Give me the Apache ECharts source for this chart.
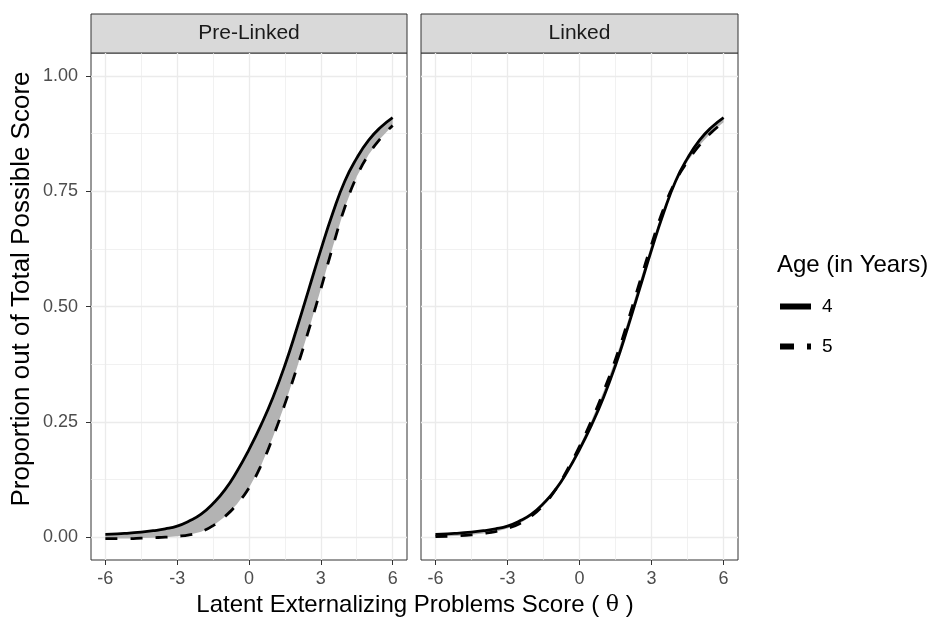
<!DOCTYPE html>
<html>
<head>
<meta charset="utf-8">
<script src="https://cdn.jsdelivr.net/npm/echarts@6/dist/echarts.min.js"></script>
<style>
  html, body { margin: 0; padding: 0; background: #fff; }
  #chart { width: 930px; height: 622px; }
</style>
</head>
<body>
<div id="chart"></div>
<script>
// Test characteristic curves by age, before and after linking (two facets).
const theta = [-6, -5.5, -5, -4.5, -4, -3.5, -3, -2.5, -2, -1.5, -1, -0.5, 0,
  0.5, 1, 1.5, 2, 2.5, 3, 3.5, 4, 4.5, 5, 5.5, 6];

// Pre-Linked panel
const preAge4 = [0.006, 0.007, 0.009, 0.011, 0.014, 0.018, 0.024, 0.035, 0.05, 0.073, 0.103, 0.143, 0.19,
  0.243, 0.303, 0.373, 0.453, 0.538, 0.623, 0.703, 0.772, 0.822, 0.861, 0.889, 0.91];
const preAge5 = [-0.003, -0.003, -0.003, -0.002, -0.001, 0.0, 0.002, 0.005, 0.012, 0.025, 0.045, 0.072, 0.107,
  0.155, 0.217, 0.289, 0.367, 0.45, 0.538, 0.63, 0.715, 0.782, 0.83, 0.865, 0.893];

// Linked panel
const linkedAge4 = [0.006, 0.007, 0.009, 0.011, 0.014, 0.018, 0.024, 0.035, 0.05, 0.073, 0.103, 0.143, 0.19,
  0.243, 0.303, 0.373, 0.453, 0.538, 0.623, 0.703, 0.772, 0.822, 0.861, 0.889, 0.91];
const linkedAge5 = [0.001, 0.002, 0.003, 0.005, 0.008, 0.012, 0.019, 0.029, 0.046, 0.07, 0.103, 0.147, 0.197,
  0.253, 0.316, 0.386, 0.466, 0.552, 0.635, 0.712, 0.772, 0.815, 0.85, 0.878, 0.9];

const panels = ["Pre-Linked", "Linked"];
const ageNames = ["4", "5"];
const xTicks = [-6, -3, 0, 3, 6];
const xMinor = [-4.5, -1.5, 1.5, 4.5];
const yTicks = [0, 0.25, 0.5, 0.75, 1];
const yMinor = [0.125, 0.375, 0.625, 0.875];

const FONT = "'Liberation Sans', Arial, sans-serif";
const X_RANGE = [-6.6, 6.6];
const Y_RANGE = [-0.0495, 1.05];
const panelBox = [{ left: 91, width: 316 }, { left: 421, width: 317 }];
const TOP = 53, BOTTOM = 62;

const chart = echarts.init(document.getElementById("chart"));

const grids = panelBox.map((p) => ({
  left: p.left, width: p.width, top: TOP, bottom: BOTTOM,
  show: true, borderColor: "#333", borderWidth: 1, backgroundColor: "#fff",
}));

// each panel gets a major axis (ticks, labels, thick grid) and a minor one (thin grid only)
const xAxes = [], yAxes = [];
panelBox.forEach((p, gi) => {
  xAxes.push({
    type: "value", gridIndex: gi, min: X_RANGE[0], max: X_RANGE[1], position: "bottom",
    axisLine: { show: false, onZero: false },
    axisTick: { show: true, length: 5, customValues: xTicks, lineStyle: { color: "#333", width: 1 } },
    axisLabel: { customValues: xTicks, color: "#4d4d4d", fontSize: 18, fontFamily: FONT, margin: 10 },
    splitLine: { show: true, lineStyle: { color: "#ebebeb", width: 1.3 } },
  });
  xAxes.push({
    type: "value", gridIndex: gi, min: X_RANGE[0], max: X_RANGE[1],
    axisLine: { show: false, onZero: false }, axisLabel: { show: false },
    axisTick: { show: false, customValues: xMinor },
    splitLine: { show: true, lineStyle: { color: "#ebebeb", width: 0.7 } },
  });
  yAxes.push({
    type: "value", gridIndex: gi, min: Y_RANGE[0], max: Y_RANGE[1], position: "left",
    axisLine: { show: false, onZero: false },
    axisTick: { show: gi === 0, length: 5, customValues: yTicks, lineStyle: { color: "#333", width: 1 } },
    axisLabel: { show: gi === 0, customValues: yTicks, color: "#4d4d4d", fontSize: 18, fontFamily: FONT, margin: 13,
      formatter: (v) => v.toFixed(2) },
    splitLine: { show: true, lineStyle: { color: "#ebebeb", width: 1.3 } },
  });
  yAxes.push({
    type: "value", gridIndex: gi, min: Y_RANGE[0], max: Y_RANGE[1],
    axisLine: { show: false, onZero: false }, axisLabel: { show: false },
    axisTick: { show: false, customValues: yMinor },
    splitLine: { show: true, lineStyle: { color: "#ebebeb", width: 0.7 } },
  });
});

const DASH = [12, 13];
const series = [];
[[preAge4, preAge5], [linkedAge4, linkedAge5]].forEach(([a4, a5], gi) => {
  const axes = { xAxisIndex: gi * 2, yAxisIndex: gi * 2 };
  // grey ribbon between the two age curves
  series.push(Object.assign({
    type: "custom", name: "ribbon" + gi, silent: true, z: 1, data: [[0, 0]],
    renderItem: (params, api) => {
      const upper = theta.map((x, i) => api.coord([x, Math.max(a4[i], a5[i])]));
      const lower = theta.map((x, i) => api.coord([x, Math.min(a4[i], a5[i])])).reverse();
      return { type: "polygon", shape: { points: upper.concat(lower) }, style: { fill: "#b3b3b3" } };
    },
  }, axes));
  series.push(Object.assign({ type: "line", name: ageNames[0], data: theta.map((x, i) => [x, a4[i]]),
    smooth: true, symbol: "none", itemStyle: { color: "#000" },
    lineStyle: { color: "#000", width: 2.8, type: "solid" }, z: 3 }, axes));
  series.push(Object.assign({ type: "line", name: ageNames[1], data: theta.map((x, i) => [x, a5[i]]),
    smooth: true, symbol: "none", itemStyle: { color: "#000" },
    lineStyle: { color: "#000", width: 2.8, type: DASH, cap: "butt" }, z: 3 }, axes));
});

// facet strips
const strips = [];
panelBox.forEach((p, gi) => {
  strips.push({ type: "rect", shape: { x: p.left, y: 14, width: p.width, height: TOP - 14 },
    style: { fill: "#d9d9d9", stroke: "#333", lineWidth: 1 } });
  strips.push({ type: "text", x: p.left + p.width / 2, y: (14 + TOP) / 2,
    style: { text: panels[gi], fill: "#1a1a1a", font: "21px " + FONT, align: "center", verticalAlign: "middle" } });
});

chart.setOption({
  animation: false,
  backgroundColor: "#fff",
  grid: grids,
  xAxis: xAxes,
  yAxis: yAxes,
  legend: {
    data: [
      { name: "4", lineStyle: { width: 6 } },
      { name: "5", lineStyle: { width: 6, type: [14, 13] } },
    ],
    orient: "vertical", left: 777, top: 297, padding: 0,
    itemWidth: 31, itemHeight: 14, itemGap: 21,
    itemStyle: { opacity: 0, color: "rgba(0,0,0,0)", borderWidth: 0 },
    selectedMode: false,
    textStyle: { color: "#000", fontSize: 19, fontFamily: FONT, padding: [0, 0, 0, 6] },
  },
  graphic: strips.concat([
    { type: "text", x: 777, y: 265,
      style: { text: "Age (in Years)", fill: "#000", font: "24px " + FONT, verticalAlign: "middle" } },
    { type: "text", x: 22, y: 289, rotation: Math.PI / 2,
      style: { text: "Proportion out of Total Possible Score", fill: "#000", font: "26px " + FONT,
        align: "center", verticalAlign: "middle" } },
    { type: "text", x: 415, y: 605,
      style: {
        text: "{a|Latent Externalizing Problems Score ( }{t|θ}{a| )}",
        align: "center", verticalAlign: "middle",
        rich: {
          a: { fontSize: 24, fontFamily: FONT, color: "#000" },
          t: { fontSize: 22, fontFamily: "'DejaVu Serif', serif", color: "#000" },
        },
      } },
  ]),
  series: series,
});
</script>
</body>
</html>
